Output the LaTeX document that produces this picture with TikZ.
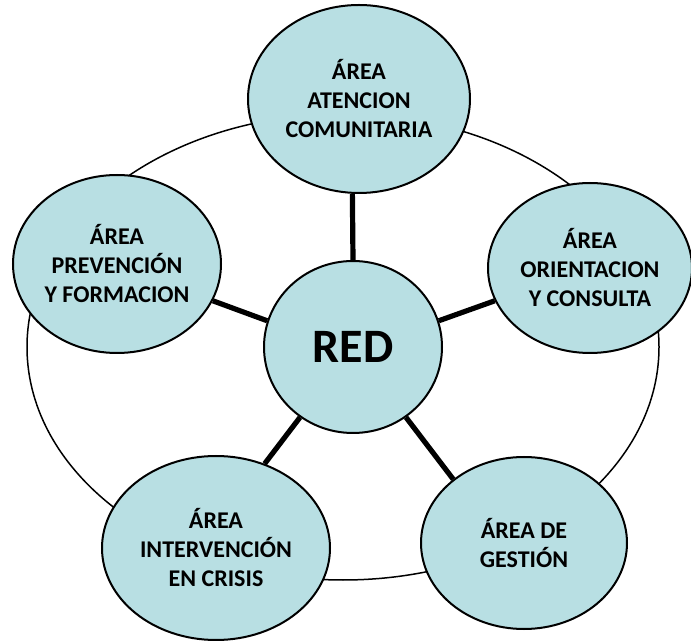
\documentclass[tikz,border=0pt]{standalone}
\usepackage{fontspec}
\setmainfont{Carlito}
\usetikzlibrary{shapes.geometric}
\definecolor{areafill}{RGB}{184,223,227}
\begin{document}
\begin{tikzpicture}[x=0.5pt,y=-0.5pt,
  area/.style={ellipse, draw=black, line width=1pt, fill=areafill, inner sep=0pt, align=center, font=\fontsize{12}{14.5}\selectfont\bfseries},
  conn/.style={line width=2.6pt},
  ringstyle/.style={ellipse, draw=black, line width=0.75pt, inner sep=0pt}]
\useasboundingbox (0,0) rectangle (691,641);
\node[ringstyle, minimum width=316pt, minimum height=233pt] (ring) at (343,347) {};
\node[area, minimum width=111pt, minimum height=94pt] (top) at (359,99) {ÁREA\\ATENCION\\COMUNITARIA};
\node[area, minimum width=104pt, minimum height=89pt] (left) at (117,264) {ÁREA\\PREVENCIÓN\\Y FORMACION};
\node[area, minimum width=102pt, minimum height=85pt] (right) at (590,268) {ÁREA\\ORIENTACION\\Y CONSULTA};
\node[area, minimum width=114pt, minimum height=92pt] (bl) at (216,548) {ÁREA\\INTERVENCIÓN\\EN CRISIS};
\node[area, minimum width=103pt, minimum height=86pt] (br) at (524,543) {ÁREA DE\\GESTIÓN};
\node[area, minimum width=89pt, minimum height=86pt, font=\fontsize{24}{28}\selectfont\bfseries] (red) at (353,347) {RED};
\draw[conn] (red.90) -- (top.266);
\draw[conn] (red.163.6) -- (left.-21.8);
\draw[conn] (red.17.6) -- (right.199.7);
\draw[conn] (red.233.3) -- (bl.60);
\draw[conn] (red.-53.4) -- (br.138.8);
\end{tikzpicture}
\end{document}
